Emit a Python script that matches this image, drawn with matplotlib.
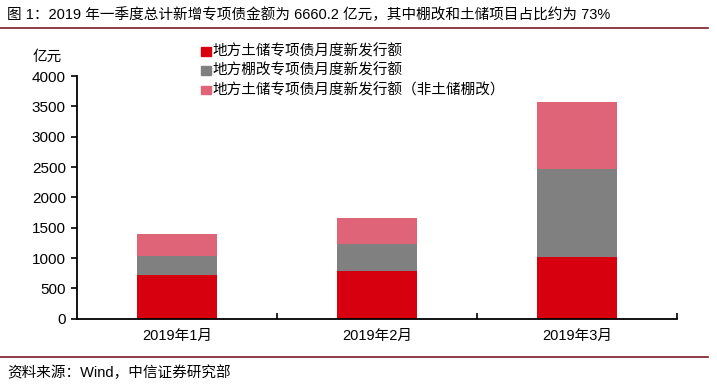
import matplotlib
matplotlib.use("Agg")
import matplotlib.pyplot as plt
from matplotlib.lines import Line2D
from matplotlib.patches import Rectangle

plt.rcParams["font.family"] = ["Liberation Sans", "Noto Sans CJK SC", "DejaVu Sans"]

months = ["2019年1月", "2019年2月", "2019年3月"]
land = [725, 791, 1022]
shantytown = [308, 440, 1440]
other = [368, 424, 1109]
series_names = [
    "地方土储专项债月度新发行额",
    "地方棚改专项债月度新发行额",
    "地方土储专项债月度新发行额（非土储棚改）",
]
colors = ["#D7000F", "#808080", "#E06478"]
y_ticks = [0, 500, 1000, 1500, 2000, 2500, 3000, 3500, 4000]

fig = plt.figure(figsize=(7.17, 3.88), dpi=100)
ax = fig.add_axes([0.1074, 0.1786, 0.8366, 0.6254])

x = list(range(len(months)))
bottom2 = [a + b for a, b in zip(land, shantytown)]
ax.bar(x, land, width=0.4, color=colors[0])
ax.bar(x, shantytown, width=0.4, bottom=land, color=colors[1])
ax.bar(x, other, width=0.4, bottom=bottom2, color=colors[2])

ax.set_xlim(-0.5, 2.5)
ax.set_ylim(0, 4000)
ax.set_yticks(y_ticks)
ax.tick_params(axis="y", labelsize=11, length=4, width=1.2, direction="out", pad=4)
ax.set_xticks(x)
ax.set_xticklabels(months, fontsize=10.5)
ax.tick_params(axis="x", length=0, pad=7)
ax.set_xticks([0.5, 1.5, 2.5], minor=True)
ax.tick_params(axis="x", which="minor", direction="in", length=4, width=1.2)
for s in ["top", "right"]:
    ax.spines[s].set_visible(False)
for s in ["left", "bottom"]:
    ax.spines[s].set_linewidth(1.3)

fig.text(0.046, 0.853, "亿元", fontsize=10.5, va="center")

# legend drawn as squares + text
leg_y = [0.868, 0.818, 0.768]
for yy, c, name in zip(leg_y, colors, series_names):
    fig.patches.append(Rectangle((0.281, yy - 0.0115), 0.0126, 0.023, color=c,
                                 transform=fig.transFigure, figure=fig))
    fig.text(0.297, yy, name, fontsize=10.5, va="center")

fig.text(0.01, 0.962, "图 1：2019 年一季度总计新增专项债金额为 6660.2 亿元，其中棚改和土储项目占比约为 73%",
         fontsize=10.5, va="center")
fig.lines.append(Line2D([0.0, 0.988], [0.927, 0.927], color="#7A1A24", lw=1.2,
                        transform=fig.transFigure))
fig.lines.append(Line2D([0.0, 0.988], [0.081, 0.081], color="#7A1A24", lw=1.2,
                        transform=fig.transFigure))
fig.text(0.01, 0.04, "资料来源：Wind，中信证券研究部", fontsize=10.5, va="center")

fig.savefig("out.png", dpi=100, facecolor="white")
